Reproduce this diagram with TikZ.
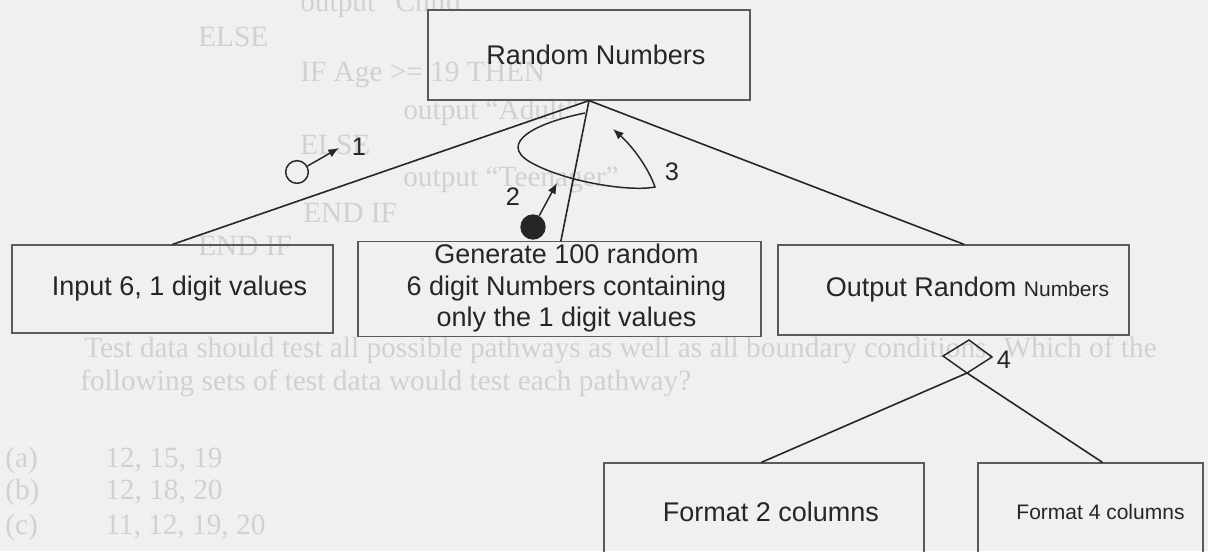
\documentclass[tikz,border=0pt]{standalone}
\usepackage{fontspec}
\setmainfont{Liberation Sans}
\newfontfamily\serifbg{Liberation Serif}
\usetikzlibrary{arrows.meta}
\definecolor{bg}{RGB}{239,241,240}
\definecolor{ghost}{RGB}{208,210,209}
\definecolor{ink}{RGB}{38,38,38}
\definecolor{edge}{RGB}{90,90,90}
\begin{document}
\begin{tikzpicture}[x=0.75pt,y=-0.75pt,
  box/.style={draw=edge, line width=0.9pt, rectangle, inner sep=0pt, text=ink,
    font=\fontsize{20.25}{23.25}\selectfont},
  link/.style={draw=ink, line width=1.2pt},
  flag/.style={draw=ink, line width=1.1pt, -{Latex[length=8pt,width=6.5pt]}},
  num/.style={text=ink, font=\fontsize{19}{22}\selectfont, inner sep=0pt},
  ghosttext/.style={text=ghost, font=\serifbg\fontsize{22}{26}\selectfont, anchor=west, inner sep=0pt}]

\fill[bg] (0,0) rectangle (1208,551);
\useasboundingbox (0,0) rectangle (1208,551);

% faint show-through text of the scanned page
\node[ghosttext] (g1) at (300,4) {output “Child”};
\node[ghosttext] (g2) at (198,37) {ELSE};
\node[ghosttext] (g3) at (300,75) {IF Age >= 19 THEN};
\node[ghosttext] (g4) at (403,112) {output “Adult”};
\node[ghosttext] (g5) at (300,145) {ELSE};
\node[ghosttext] (g6) at (403,180) {output “Teenager”};
\node[ghosttext] (g7) at (303,213) {END IF};
\node[ghosttext] (g8) at (198,246) {END IF};
\node[ghosttext] (g9) at (84,350) {Test data should test all possible pathways as well as all boundary conditions. Which of the};
\node[ghosttext] (g10) at (80,383) {following sets of test data would test each pathway?};
\node[ghosttext] (ga) at (5,460) {(a)};
\node[ghosttext] (gav) at (105,460) {12, 15, 19};
\node[ghosttext] (gb) at (5,492) {(b)};
\node[ghosttext] (gbv) at (105,492) {12, 18, 20};
\node[ghosttext] (gc) at (5,527) {(c)};
\node[ghosttext] (gcv) at (105,527) {11, 12, 19, 20};

% boxes
\node[box, minimum width=241.5pt, minimum height=67.5pt] (root) at (589,55)
  {\hspace*{10.5pt}Random Numbers};
\node[box, minimum width=240.75pt, minimum height=66pt] (inp) at (172.5,289)
  {\hspace*{10.5pt}Input 6, 1 digit values};
\node[box, minimum width=302.25pt, minimum height=66pt] (gen) at (559.5,289)
  {\hspace*{10.5pt}\begin{tabular}{@{}c@{}}Generate 100 random\\[0.5pt]6 digit Numbers containing\\[0.5pt]only the 1 digit values\end{tabular}};
\node[box, minimum width=263.25pt, minimum height=67.5pt] (out) at (953.5,290)
  {\hspace*{21pt}Output Random {\fontsize{15.75}{18}\selectfont Numbers}};
\node[box, minimum width=240pt, minimum height=72.75pt] (f2) at (764,511.5)
  {\hspace*{10.5pt}Format 2 columns};
\node[box, minimum width=168.75pt, minimum height=72.75pt, font=\fontsize{15.75}{18}\selectfont] (f4) at (1090.5,511.5)
  {\hspace*{15pt}Format 4 columns};

% connectors
\draw[link] (root.south) -- (inp.north);
\draw[link] (root.south) -- ([xshift=1pt]gen.north);
\draw[link] (root.south) -- ([xshift=8pt]out.north);

% selection diamond
\coordinate (dt) at (969,340);
\coordinate (dr) at (992,357);
\coordinate (db) at (967,373);
\coordinate (dl) at (943,356);
\draw[link, line width=1.1pt] (dt) -- (dr) -- (db) -- (dl) -- cycle;
\node[num] (n4) at (1004,360) {4};
\draw[link] (db) -- ([xshift=-2pt]f2.north);
\draw[link] (db) -- ([xshift=9pt]f4.north);

% data flag 1
\node[circle, draw=ink, line width=1.1pt, minimum size=17pt, inner sep=0pt] (c1) at (297,172) {};
\coordinate (t1) at (339,148);
\draw[flag] (c1) -- (t1);
\node[num] (n1) at (359,147) {1};

% data flag 2
\node[circle, fill=ink, minimum size=19pt, inner sep=0pt] (c2) at (533,227) {};
\coordinate (t2) at (557,183);
\draw[flag] (c2) -- (t2);
\node[num] (n2) at (513,197) {2};

% loop 3
\coordinate (ls) at (585,113);
\coordinate (lt) at (613,129);
\draw[flag] (ls) .. controls (535,123) and (498,143) .. (530,162)
  .. controls (565,182) and (630,192) .. (655,187)
  .. controls (648,167) and (632,146) .. (lt);
\node[num] (n3) at (672,172) {3};
\end{tikzpicture}
\end{document}
